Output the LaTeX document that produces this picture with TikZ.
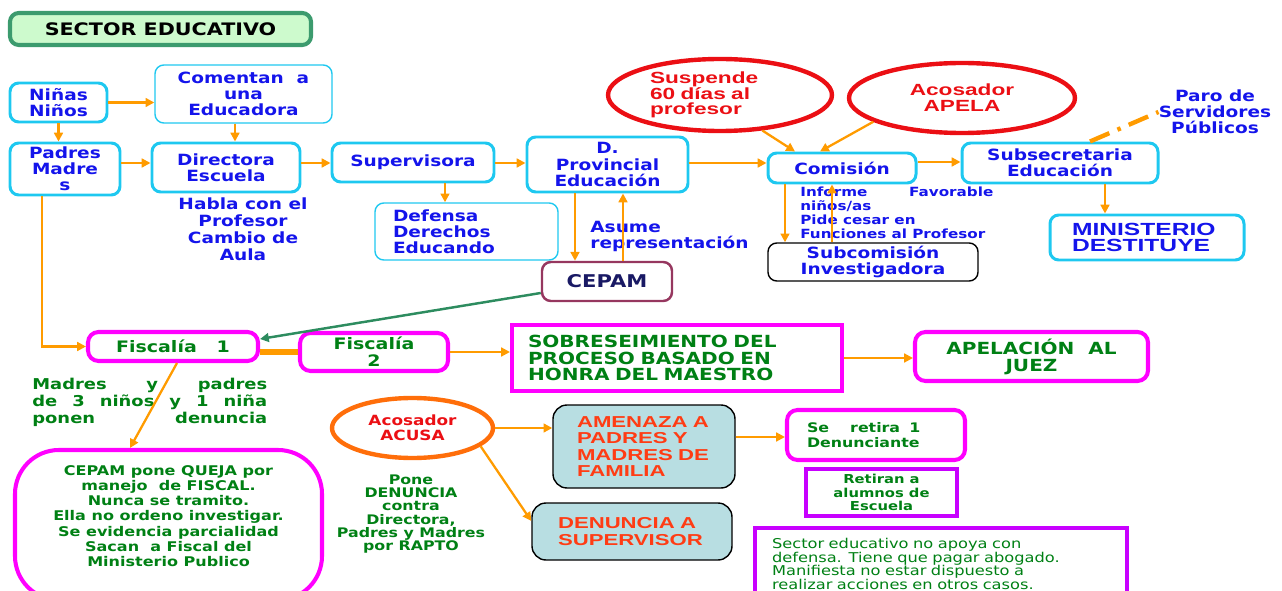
\documentclass[tikz,border=0pt]{standalone}
\usepackage{fontspec}
\setmainfont{DejaVu Sans}[FakeStretch=1.2]
\newfontfamily\arialf{Liberation Sans}[FakeStretch=1.4]
\usetikzlibrary{arrows.meta,shapes.geometric}

\definecolor{celeste}{RGB}{30,200,240}
\definecolor{azul}{RGB}{20,20,235}
\definecolor{naranja}{RGB}{255,155,0}
\definecolor{fucsia}{RGB}{255,0,255}
\definecolor{violeta}{RGB}{200,0,255}
\definecolor{verde}{RGB}{0,128,20}
\definecolor{rojo}{RGB}{235,15,20}
\definecolor{verdeT}{RGB}{60,155,110}
\definecolor{verdeF}{RGB}{205,250,205}
\definecolor{morado}{RGB}{150,55,95}
\definecolor{marino}{RGB}{25,25,100}
\definecolor{cian}{RGB}{184,222,226}
\definecolor{rojizo}{RGB}{255,60,20}
\definecolor{verdeL}{RGB}{45,140,95}
\definecolor{naranjaE}{RGB}{255,110,10}

\newcommand\fazul{\fontsize{8.8}{9.2}\selectfont\bfseries}
\newcommand\fhabla{\fontsize{8.8}{9.6}\selectfont\bfseries}
\newcommand\ftitulo{\fontsize{9.8}{10}\selectfont\bfseries}
\newcommand\frojo{\arialf\fontsize{9.2}{9}\selectfont\bfseries}
\newcommand\fminis{\arialf\fontsize{10}{9.2}\selectfont\bfseries}
\newcommand\fverde{\fontsize{9}{9.6}\selectfont\bfseries}
\newcommand\fsobre{\fontsize{9.5}{9.6}\selectfont\bfseries}
\newcommand\fmadres{\fontsize{8.5}{9.6}\selectfont\bfseries}
\newcommand\fqueja{\fontsize{7.6}{8.7}\selectfont\bfseries}
\newcommand\fpone{\fontsize{7.5}{7.6}\selectfont\bfseries}
\newcommand\facusa{\fontsize{8}{8.5}\selectfont\bfseries}
\newcommand\famenaza{\arialf\fontsize{9}{9.4}\selectfont\bfseries}
\newcommand\fretira{\fontsize{7.5}{9}\selectfont\bfseries}
\newcommand\fretiran{\fontsize{7}{7.9}\selectfont\bfseries}
\newcommand\fsector{\fontsize{7.7}{7.9}\selectfont}
\newcommand\finforme{\fontsize{7.2}{7.9}\selectfont\bfseries}
\newcommand\fcepam{\fontsize{10}{11}\selectfont\bfseries}

\begin{document}
\begin{tikzpicture}[x=0.02cm,y=-0.02cm,
    wh/.style 2 args={minimum width=#1*0.02cm,minimum height=#2*0.02cm},
    caja/.style={draw=celeste,line width=1.7pt,rounded corners=5pt,text=azul,font=\fazul,align=center,inner sep=0pt},
    cajafina/.style={caja,line width=0.8pt},
    fisc/.style={draw=fucsia,line width=2.3pt,rounded corners=6pt,text=verde,font=\fverde,align=center,inner sep=0pt},
    recto/.style={line width=2.3pt,text=verde,align=center,inner sep=0pt},
    elipse/.style={ellipse,line width=2.5pt,inner sep=0pt,align=center},
    gris/.style={draw=black,line width=0.8pt,rounded corners=8pt,fill=cian,text=rojizo,font=\famenaza,align=left,inner sep=0pt},
    flecha/.style={draw=naranja,line width=1.3pt,-{Triangle[length=5pt,width=5pt]}},
    txt/.style={inner sep=0pt,align=center}]
  \useasboundingbox (0,0) rectangle (1282,591);

  \node[draw=verdeT,fill=verdeF,line width=2.3pt,rounded corners=5pt,font=\ftitulo,inner sep=0pt,wh={301}{32}] (titulo) at (160.5,29) {SECTOR EDUCATIVO};

  \node[caja,wh={97}{39}] (ninos) at (58.5,102.5) {Niñas\\Niños};
  \node[cajafina,wh={177}{58}] (comentan) at (243.5,94) {Comentan\ \ a\\una\\Educadora};
  \node[caja,wh={110}{52}] (padres) at (65,169) {Padres\\Madre\\s};
  \node[caja,wh={148}{49}] (directora) at (226,167.5) {Directora\\Escuela};
  \node[txt,text=azul,font=\fhabla] (habla) at (243,229) {Habla con el\\Profesor\\Cambio de\\Aula};
  \node[caja,wh={162}{39}] (supervisora) at (413,162.5) {Supervisora};
  \node[cajafina,wh={183}{57},text width=2.94cm,inner xsep=0.36cm,align=left] (defensa) at (466.5,231.5) {Defensa\\Derechos\\Educando};
  \node[caja,wh={161}{55}] (provincial) at (607.5,164.5) {D.\\Provincial\\Educación};
  \node[draw=morado,line width=1.4pt,rounded corners=5pt,text=marino,font=\fcepam,inner sep=0pt,wh={130}{39}] (cepam) at (607,281.5) {CEPAM};
  \node[txt,anchor=west,align=left,text=azul,font=\fazul] (asume) at (590,236.5) {Asume\\representación};
  \node[elipse,draw=rojo,text=rojo,font=\frojo,wh={224}{72},text width=2.8cm,align=left] (suspende) at (720,95) {Suspende\\60 días al\\profesor};
  \node[elipse,draw=rojo,text=rojo,font=\frojo,wh={226}{70}] (apela) at (962,98) {Acosador\\APELA};
  \node[caja,wh={148}{30}] (comision) at (842,168) {Comisión};
  \node[caja,wh={196}{40}] (subsecretaria) at (1060,163) {Subsecretaria\\Educación};
  \node[txt,text=azul,font=\fazul] (paro) at (1215,112) {Paro de\\Servidores\\Públicos};
  \node[caja,wh={194}{45},font=\fminis,text width=3.0cm,inner xsep=0.44cm,align=left] (ministerio) at (1147,237.5) {MINISTERIO\\DESTITUYE};
  \node[txt,anchor=north west,align=left,text=azul,font=\finforme] (informe) at (800,187) {\makebox[3.86cm][s]{Informe Favorable}\\niños/as\\Pide cesar en\\Funciones al Profesor};
  \node[draw=black,line width=0.8pt,rounded corners=5pt,text=azul,font=\fazul,align=center,inner sep=0pt,wh={210}{38}] (subcomision) at (873,262) {Subcomisión\\Investigadora};

  \node[fisc,wh={170}{29}] (fiscalia1) at (173,346.5) {Fiscalía\ \ \ 1};
  \node[fisc,wh={148}{38}] (fiscalia2) at (374,352) {Fiscalía\\2};
  \node[recto,draw=fucsia,wh={330}{66},text width=5.96cm,inner xsep=0.32cm,align=left,font=\fsobre] (sobre) at (677,358) {SOBRESEIMIENTO DEL\\PROCESO BASADO EN\\HONRA DEL MAESTRO};
  \node[fisc,wh={233}{49},font=\fsobre] (apelacion) at (1031.5,356.5) {APELACIÓN\ \ AL\\JUEZ};
  \node[txt,anchor=north west,align=left,text=verde,font=\fmadres] (madres) at (32,378) {\makebox[4.7cm][s]{Madres y padres}\\\makebox[4.7cm][s]{de 3 niños y 1 niña}\\\makebox[4.7cm][s]{ponen denuncia}};
  \node[fisc,wh={307}{150},rounded corners=25pt] (queja) at (168.5,525) {};
  \node[txt,text=verde,font=\fqueja] (quejatexto) at (168.5,516) {CEPAM pone QUEJA por\\manejo\ \ de FISCAL.\\Nunca se tramito.\\Ella no ordeno investigar.\\Se evidencia parcialidad\\Sacan\ \ a Fiscal del\\Ministerio Publico};

  \node[elipse,draw=naranjaE,text=rojo,font=\facusa,wh={161}{60}] (acusa) at (412.5,428) {Acosador\\ACUSA};
  \node[txt,text=verde,font=\fpone] (pone) at (411,514) {Pone\\DENUNCIA\\contra\\Directora,\\Padres y Madres\\por RAPTO};
  \node[gris,wh={182}{83},text width=2.68cm,inner xsep=0.48cm] (amenaza) at (644,446.5) {AMENAZA A\\PADRES Y\\MADRES DE\\FAMILIA};
  \node[gris,wh={200}{57},text width=2.96cm,inner xsep=0.52cm] (denuncia) at (632,531.5) {DENUNCIA A\\SUPERVISOR};
  \node[fisc,wh={178}{50},text width=2.76cm,inner xsep=0.4cm,align=left,font=\fretira] (retira) at (876,435) {Se\hspace{1.6em}retira\hspace{0.7em}1\\Denunciante};
  \node[recto,draw=violeta,wh={151}{47},font=\fretiran] (retiran) at (881.5,492.5) {Retiran a\\alumnos de\\Escuela};
  \node[recto,draw=violeta,wh={372}{72},text width=6.76cm,inner xsep=0.34cm,align=left,font=\fsector] (sector) at (941,564) {Sector educativo no apoya con\\defensa. Tiene que pagar abogado.\\Manifiesta no estar dispuesto a\\realizar acciones en otros casos.};

  \draw[flecha] (ninos.east) -- (ninos.east -| comentan.west);
  \draw[flecha] (ninos.south) -- (ninos.south |- padres.north);
  \draw[flecha] (comentan.south -| 235,0) -- (directora.north -| 235,0);
  \draw[flecha] (padres.east |- 0,163) -- (directora.west |- 0,163);
  \draw[flecha] (directora.east |- 0,163) -- (supervisora.west |- 0,163);
  \draw[flecha] (supervisora.south -| 445,0) -- (defensa.north -| 445,0);
  \draw[flecha] (supervisora.east |- 0,163) -- (provincial.west |- 0,163);
  \draw[flecha] (provincial.south -| 575,0) -- (cepam.north -| 575,0);
  \draw[flecha] (cepam.north -| 623,0) -- (provincial.south -| 623,0);
  \draw[flecha] (provincial.east |- 0,163) -- (comision.west |- 0,163);
  \draw[flecha] (suspende.-40) -- (comision.north -| 795,0);
  \draw[flecha] (apela.195) -- (comision.north -| 820,0);
  \draw[flecha] (comision.east |- 0,162) -- (subsecretaria.west |- 0,162);
  \draw[naranja,line width=2.5pt,dash pattern=on 12pt off 5pt on 2pt off 5pt] (subsecretaria.north -| 1090,0) -- (paro.west);
  \draw[flecha] (subsecretaria.south -| 1105,0) -- (ministerio.north -| 1105,0);
  \draw[flecha] (comision.south -| 785,0) -- (subcomision.north -| 785,0);
  \draw[flecha] (subcomision.north -| 832,0) -- (comision.south -| 832,0);
  \draw[verdeL,line width=1.4pt,-{Triangle[length=5pt,width=5pt]}] (cepam.west |- 0,293) -- (fiscalia1.east |- 0,339);
  \draw[flecha] (padres.south -| 42,0) |- (fiscalia1.west);
  \draw[naranja,line width=3.4pt] (fiscalia1.east |- 0,352) -- (fiscalia2.west |- 0,352);
  \draw[flecha] (fiscalia2.east) -- (fiscalia2.east -| sobre.west);
  \draw[flecha] (sobre.east) -- (sobre.east -| apelacion.west);
  \draw[flecha] (fiscalia1.south -| 177,0) -- (queja.north -| 130,0);
  \draw[flecha] (acusa.east) -- (acusa.east -| amenaza.west);
  \draw[flecha] (acusa.-15) -- (denuncia.west |- 0,521);
  \draw[flecha] (amenaza.east |- 0,437) -- (retira.west |- 0,437);
\end{tikzpicture}
\end{document}
